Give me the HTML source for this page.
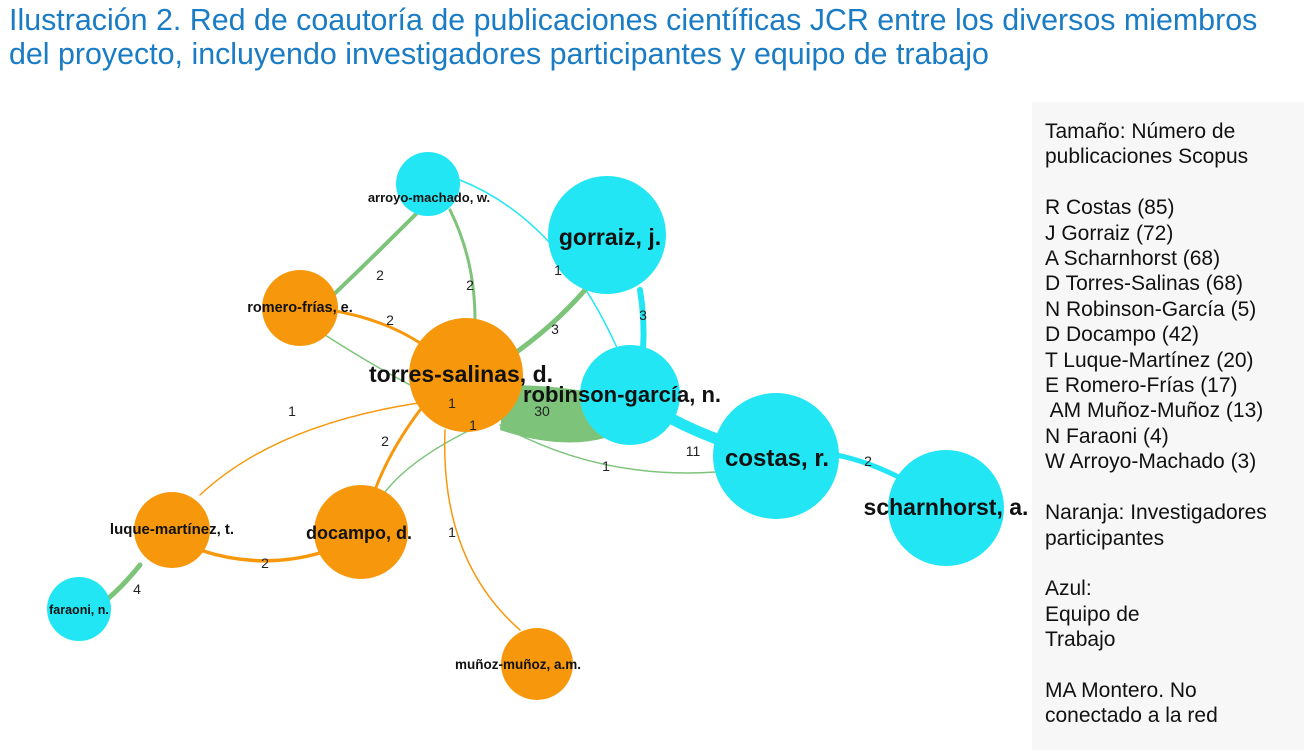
<!DOCTYPE html>
<html><head><meta charset="utf-8"><style>
html,body{margin:0;padding:0;background:#fff;width:1316px;height:750px;overflow:hidden}
.t{position:absolute;left:9px;top:3px;font-family:"Liberation Sans",sans-serif;font-size:30.4px;color:#1a7cc4;line-height:34px;white-space:nowrap}
.lg{position:absolute;left:1032px;top:102px;width:272px;height:648px;background:#f7f7f7}
.lg div{position:absolute;left:13px;top:17px;font-family:"Liberation Sans",sans-serif;font-size:21px;line-height:25.4px;color:#111;white-space:pre}
svg{position:absolute;left:0;top:0}
</style></head><body>
<div class="t">Ilustración 2. Red de coautoría de publicaciones científicas JCR entre los diversos miembros<br>del proyecto, incluyendo investigadores participantes y equipo de trabajo</div>
<div class="lg"><div>Tamaño: Número de
publicaciones Scopus

R Costas (85)
J Gorraiz (72)
A Scharnhorst (68)
D Torres-Salinas (68)
N Robinson-García (5)
D Docampo (42)
T Luque-Martínez (20)
E Romero-Frías (17)
 AM Muñoz-Muñoz (13)
N Faraoni (4)
W Arroyo-Machado (3)

Naranja: Investigadores
participantes

Azul:
Equipo de
Trabajo

MA Montero. No
conectado a la red</div></div>
<svg width="1316" height="750" font-family="Liberation Sans,sans-serif">
<g fill="none" stroke-linecap="round">
<path d="M640,400 Q700,440 776,456" stroke="#22e6f3" stroke-width="11"/>
<path d="M800,450 Q880,455 946,508" stroke="#22e6f3" stroke-width="5"/>
<path d="M640,290 Q645,320 643,350" stroke="#22e6f3" stroke-width="6"/>
<path d="M460,180 Q560,220 618,350" stroke="#22e6f3" stroke-width="1.5"/>
<path d="M585,290 Q550,330 505,360" stroke="#7dc47a" stroke-width="5"/>
<path d="M420,210 Q370,260 330,298" stroke="#7dc47a" stroke-width="4"/>
<path d="M450,210 Q475,260 475,320" stroke="#7dc47a" stroke-width="3"/>
<path d="M330,310 Q390,320 430,350" stroke="#f7980c" stroke-width="3"/>
<path d="M325,335 Q380,370 420,390" stroke="#7dc47a" stroke-width="1.5"/>
<path d="M440,400 Q280,420 200,495" stroke="#f7980c" stroke-width="1.5"/>
<path d="M420,410 Q390,450 375,490" stroke="#f7980c" stroke-width="3"/>
<path d="M385,492 Q410,460 470,430" stroke="#7dc47a" stroke-width="1.5"/>
<path d="M445,430 Q440,560 520,630" stroke="#f7980c" stroke-width="1.5"/>
<path d="M500,425 Q600,480 716,472" stroke="#7dc47a" stroke-width="1.5"/>
<path d="M200,550 Q260,570 320,553" stroke="#f7980c" stroke-width="3.5"/>
<path d="M140,565 Q120,590 100,605" stroke="#7dc47a" stroke-width="5"/>
</g>
<path d="M505,385 Q560,385 605,395 L605,438 Q560,450 500,430 Z" fill="#7dc47a"/>
<g fill="#22e6f3">
<circle cx="428" cy="184" r="32"/><circle cx="607" cy="235" r="59"/><circle cx="630" cy="395" r="50"/>
<circle cx="776" cy="456" r="63"/><circle cx="946" cy="508" r="58"/><circle cx="79" cy="609" r="32"/>
</g>
<g fill="#f7980c">
<circle cx="300" cy="308" r="38"/><circle cx="466" cy="375" r="57"/><circle cx="172" cy="530" r="38"/>
<circle cx="361" cy="532" r="47"/><circle cx="537" cy="664" r="36"/>
</g>
<g fill="#111" font-weight="bold" text-anchor="middle">
<text x="429" y="202" font-size="13">arroyo-machado, w.</text>
<text x="610" y="245" font-size="23">gorraiz, j.</text>
<text x="300" y="312" font-size="14.5">romero-frías, e.</text>
<text x="461" y="382" font-size="23">torres-salinas, d.</text>
<text x="622" y="402" font-size="22">robinson-garcía, n.</text>
<text x="777" y="466" font-size="24">costas, r.</text>
<text x="946" y="515" font-size="23">scharnhorst, a.</text>
<text x="172" y="534" font-size="15">luque-martínez, t.</text>
<text x="359" y="539" font-size="18">docampo, d.</text>
<text x="79" y="614" font-size="12.5">faraoni, n.</text>
<text x="518" y="669" font-size="13.5">muñoz-muñoz, a.m.</text>
</g>
<g fill="#222" font-size="14" text-anchor="middle">
<text x="380" y="280">2</text><text x="470" y="290">2</text><text x="390" y="325">2</text>
<text x="558" y="275">1</text><text x="643" y="320">3</text><text x="555" y="334">3</text>
<text x="292" y="416">1</text><text x="452" y="408">1</text><text x="473" y="430">1</text>
<text x="542" y="416">30</text><text x="385" y="446">2</text><text x="606" y="471">1</text>
<text x="693" y="456">11</text><text x="868" y="466">2</text><text x="452" y="537">1</text>
<text x="265" y="568">2</text><text x="137" y="594">4</text>
</g>
</svg>
</body></html>
